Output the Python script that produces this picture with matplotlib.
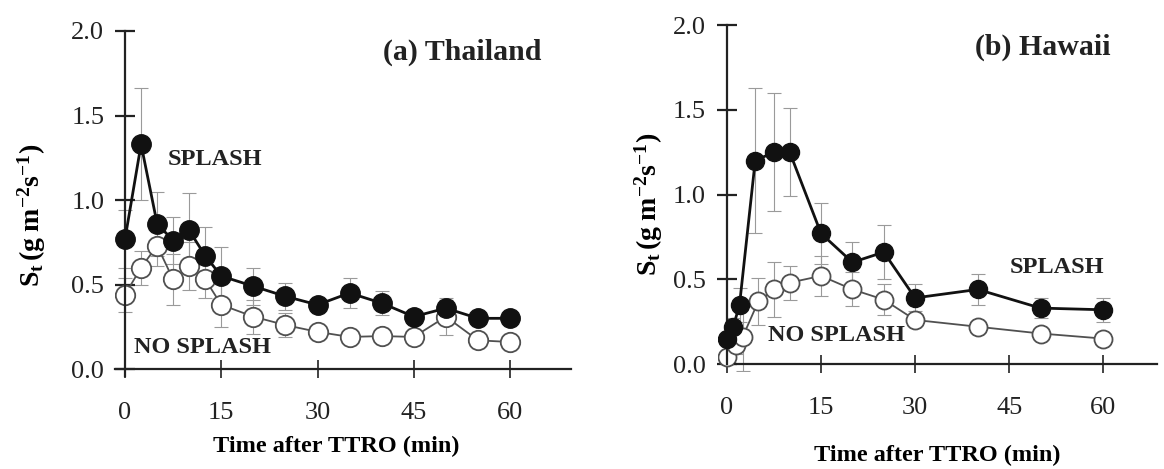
import numpy as np
import matplotlib
matplotlib.use('Agg')
import matplotlib.pyplot as plt

plt.rcParams['font.family'] = ['Liberation Serif', 'DejaVu Serif']
plt.rcParams['mathtext.fontset'] = 'custom'
plt.rcParams['mathtext.rm'] = 'Liberation Serif'
plt.rcParams['mathtext.bf'] = 'Liberation Serif:bold'
plt.rcParams['mathtext.it'] = 'Liberation Serif:italic'

# (a) Thailand
t_a = [0, 2.5, 5, 7.5, 10, 12.5, 15, 20, 25, 30, 35, 40, 45, 50, 55, 60]
splash_a = [0.77, 1.33, 0.86, 0.76, 0.82, 0.67, 0.55, 0.49, 0.43, 0.38, 0.45, 0.39, 0.31, 0.36, 0.30, 0.30]
splash_a_err = [0.17, 0.33, 0.19, 0.14, 0.22, 0.17, 0.17, 0.11, 0.08, 0.04, 0.09, 0.07, 0.04, 0.05, 0.03, 0.03]
nosplash_a = [0.44, 0.60, 0.73, 0.53, 0.61, 0.53, 0.38, 0.31, 0.26, 0.22, 0.19, 0.195, 0.19, 0.31, 0.17, 0.16]
nosplash_a_err = [0.10, 0.10, 0.12, 0.15, 0.14, 0.11, 0.13, 0.10, 0.07, 0.03, 0.02, 0.03, 0.04, 0.11, 0.03, 0.02]

# (b) Hawaii
t_b_splash = [0, 1, 2, 4.5, 7.5, 10, 15, 20, 25, 30, 40, 50, 60]
splash_b = [0.15, 0.22, 0.35, 1.20, 1.25, 1.25, 0.77, 0.60, 0.66, 0.39, 0.44, 0.33, 0.32]
splash_b_err = [0.03, 0.05, 0.10, 0.43, 0.35, 0.26, 0.18, 0.12, 0.16, 0.08, 0.09, 0.06, 0.07]
t_b_nosplash = [0, 1.5, 2.5, 5, 7.5, 10, 15, 20, 25, 30, 40, 50, 60]
nosplash_b = [0.04, 0.11, 0.16, 0.37, 0.44, 0.48, 0.52, 0.44, 0.38, 0.26, 0.22, 0.18, 0.15]
nosplash_b_err = [0.03, 0.05, 0.20, 0.14, 0.16, 0.10, 0.12, 0.10, 0.09, 0.03, 0.02, 0.02, 0.02]

x_ticks = [0, 15, 30, 45, 60]
y_ticks = [0.0, 0.5, 1.0, 1.5, 2.0]

W, H = 1164, 469
fig = plt.figure(figsize=(W / 100, H / 100), dpi=100)

def px_axes(x0, x1, ytop, ybot):
    return fig.add_axes([x0 / W, 1 - ybot / H, (x1 - x0) / W, (ybot - ytop) / H])

ax1 = px_axes(115.4, 571, 31, 375.8)
ax2 = px_axes(717.6, 1156.5, 25, 370.8)

def draw(ax, ts, s, se, tn, n, ne, ms):
    ax.errorbar(tn, n, yerr=ne, fmt='none', ecolor='#9a9a9a', elinewidth=0.8,
                capsize=5, capthick=0.8, zorder=1)
    ax.errorbar(ts, s, yerr=se, fmt='none', ecolor='#9a9a9a', elinewidth=0.8,
                capsize=5, capthick=0.8, zorder=1)
    ax.plot(tn, n, '-o', color='#505050', lw=1.3, ms=ms, mfc='white',
            mec='#505050', mew=1.3, zorder=2)
    ax.plot(ts, s, '-o', color='#111111', lw=2.0, ms=ms, mfc='#111111',
            mec='#111111', zorder=3)

draw(ax1, t_a, splash_a, splash_a_err, t_a, nosplash_a, nosplash_a_err, 14)
draw(ax2, t_b_splash, splash_b, splash_b_err, t_b_nosplash, nosplash_b, nosplash_b_err, 13)

ax1.set_xlim(-1.5, 69.5)
ax1.set_ylim(-0.04, 2.0)
ax2.set_xlim(-1.5, 68.5)
ax2.set_ylim(-0.04, 2.0)

for ax in (ax1, ax2):
    ax.spines['top'].set_visible(False)
    ax.spines['right'].set_visible(False)
    ax.spines['left'].set_position(('data', 0))
    ax.spines['bottom'].set_position(('data', 0))
    for sp in ('left', 'bottom'):
        ax.spines[sp].set_linewidth(1.6)
        ax.spines[sp].set_color('#222222')
    ax.set_xticks(x_ticks)
    ax.set_yticks(y_ticks)
    ax.set_yticklabels([f'{v:.1f}' for v in y_ticks])
    ax.tick_params(axis='y', direction='inout', length=14, width=1.6, pad=8,
                   labelsize=19, colors='#222222')
    ax.tick_params(axis='x', direction='inout', length=13, width=1.2, pad=17,
                   labelsize=19, colors='#222222')
    ax.patch.set_alpha(0)

ax2.spines['bottom'].set_bounds(1.3, 68.5)
ax2.spines['left'].set_bounds(0, 2.0)

ylab = r'$\mathbf{S_t\,(g\ m^{-2}s^{-1})}$'
ax1.set_ylabel(ylab, fontsize=20)
ax1.yaxis.set_label_coords(-0.149, 0.466)
ax2.set_ylabel(ylab, fontsize=20)
ax2.yaxis.set_label_coords(-0.12, 0.48)

ax1.set_xlabel('Time after TTRO (min)', fontsize=17.5, fontweight='bold')
ax1.xaxis.set_label_coords(0.484, -0.175)
ax2.set_xlabel('Time after TTRO (min)', fontsize=17.5, fontweight='bold')
ax2.xaxis.set_label_coords(0.5, -0.215)

tkw = dict(fontweight='bold', ha='center', va='center', color='#222222')
ax1.text(52.6, 1.876, '(a) Thailand', fontsize=21.5, **tkw)
ax1.text(14.0, 1.24, 'SPLASH', fontsize=17.5, **tkw)
ax1.text(12.1, 0.125, 'NO SPLASH', fontsize=17.5, **tkw)
ax2.text(50.4, 1.87, '(b) Hawaii', fontsize=21.5, **tkw)
ax2.text(52.6, 0.57, 'SPLASH', fontsize=17.5, **tkw)
ax2.text(17.5, 0.17, 'NO SPLASH', fontsize=17.5, **tkw)

fig.savefig('out.png', dpi=100)
